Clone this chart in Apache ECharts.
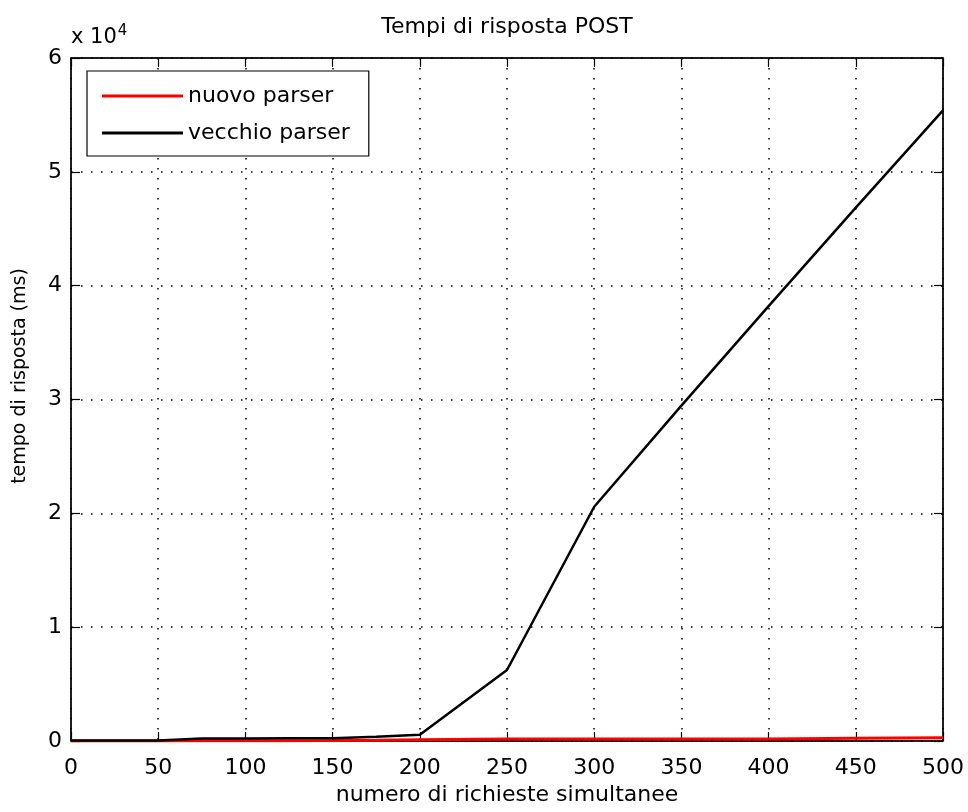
<!DOCTYPE html>
<html>
<head>
<meta charset="utf-8">
<script src="https://cdn.jsdelivr.net/npm/echarts@6/dist/echarts.min.js"></script>
<style>
html,body{margin:0;padding:0;background:#fff;}
#c{width:968px;height:812px;}
</style>
</head>
<body>
<div id="c"></div>
<script>
// ---- data ----
const titleText = 'Tempi di risposta POST';
const xName = 'numero di richieste simultanee';
const yName = 'tempo di risposta (ms)';
const seriesNames = ['nuovo parser', 'vecchio parser'];
const xTicks = [0, 50, 100, 150, 200, 250, 300, 350, 400, 450, 500];
const yTicks = [0, 1, 2, 3, 4, 5, 6]; // x 10^4

const xNuovo = [0, 25, 50, 75, 100, 125, 150, 175, 200, 250, 300, 350, 400, 450, 500];
const yNuovo = [0, 0, 0, 20, 30, 30, 40, 60, 100, 170, 170, 170, 180, 250, 280];

const xVecchio = [0, 25, 50, 75, 100, 125, 150, 175, 200, 250, 300, 350, 400, 450, 500];
const yVecchio = [50, 50, 50, 230, 230, 240, 250, 380, 550, 6240, 20580, 29460, 38200, 46850, 55400];

const FONT = 'DejaVu Sans';
const FS = 22;
const zip = (xs, ys) => xs.map((x, i) => [x, ys[i]]);

const chart = echarts.init(document.getElementById('c'), null, {renderer: 'canvas'});

const gridLeft = 71, gridTop = 58, gridRight = 968 - 943, gridBottom = 812 - 741;
const dotted = {color: '#000', width: 1.5, type: [1.5, 8.5]};

const baseX = {
  type: 'value', min: xTicks[0], max: xTicks[xTicks.length - 1], interval: xTicks[1] - xTicks[0]
};
const baseY = {
  type: 'value', min: yTicks[0] * 10000, max: yTicks[yTicks.length - 1] * 10000, interval: (yTicks[1] - yTicks[0]) * 10000
};

chart.setOption({
  animation: false,
  backgroundColor: '#fff',
  grid: {left: gridLeft, top: gridTop, right: gridRight, bottom: gridBottom, containLabel: false,
         show: true, borderColor: '#000', borderWidth: 1, backgroundColor: '#fff'},
  xAxis: [
    Object.assign({}, baseX, {
      position: 'bottom',
      axisLine: {show: true, onZero: false, lineStyle: {color: '#000', width: 1.5}},
      axisTick: {show: true, inside: true, length: 9, lineStyle: {color: '#000', width: 1.2}},
      axisLabel: {show: true, color: '#000', fontFamily: FONT, fontSize: FS, lineHeight: 22, margin: 16},
      splitLine: {show: true, lineStyle: dotted}
    }),
    Object.assign({}, baseX, {
      position: 'top',
      axisLine: {show: true, onZero: false, lineStyle: {color: '#000', width: 1.5}},
      axisTick: {show: true, inside: true, length: 9, lineStyle: {color: '#000', width: 1.2}},
      axisLabel: {show: false},
      splitLine: {show: false}
    })
  ],
  yAxis: [
    Object.assign({}, baseY, {
      position: 'left',
      axisLine: {show: true, onZero: false, lineStyle: {color: '#000', width: 1.5}},
      axisTick: {show: true, inside: true, length: 9, lineStyle: {color: '#000', width: 1.2}},
      axisLabel: {show: true, color: '#000', fontFamily: FONT, fontSize: FS, margin: 9,
                  formatter: v => String(v / 10000)},
      splitLine: {show: true, lineStyle: dotted}
    }),
    Object.assign({}, baseY, {
      position: 'right',
      axisLine: {show: true, onZero: false, lineStyle: {color: '#000', width: 1.5}},
      axisTick: {show: true, inside: true, length: 9, lineStyle: {color: '#000', width: 1.2}},
      axisLabel: {show: false},
      splitLine: {show: false}
    })
  ],
  legend: {
    show: true,
    orient: 'vertical',
    left: 87, top: 71,
    padding: [14, 19, 12, 15],
    itemGap: 15,
    itemWidth: 81, itemHeight: 3,
    icon: 'rect',
    backgroundColor: '#fff',
    borderColor: '#000', borderWidth: 1.2, borderRadius: 0,
    textStyle: {color: '#000', fontFamily: FONT, fontSize: FS, lineHeight: 22},
    data: seriesNames
  },
  series: [
    {
      name: seriesNames[0], type: 'line', xAxisIndex: 0, yAxisIndex: 0,
      data: zip(xNuovo, yNuovo), showSymbol: false, symbol: 'none',
      lineStyle: {color: '#ff0000', width: 3}, itemStyle: {color: '#ff0000'}, z: 3
    },
    {
      name: seriesNames[1], type: 'line', xAxisIndex: 0, yAxisIndex: 0,
      data: zip(xVecchio, yVecchio), showSymbol: false, symbol: 'none',
      lineStyle: {color: '#000000', width: 2.5}, itemStyle: {color: '#000000'}, z: 4
    }
  ],
  graphic: [
    {type: 'text', z: 10, x: 507, y: 27,
     style: {text: titleText, fill: '#000', font: FS + 'px "DejaVu Sans"', align: 'center', verticalAlign: 'middle'}},
    {type: 'text', z: 10, x: 71, y: 24,
     style: {text: 'x 10{s|4}', fill: '#000', font: '21px "DejaVu Sans"',
             rich: {s: {fontSize: 15, fontFamily: FONT, verticalAlign: 'top', padding: [0, 0, 12, 1]}}}},
    {type: 'text', z: 10, x: 507, y: 795,
     style: {text: xName, fill: '#000', font: FS + 'px "DejaVu Sans"', align: 'center', verticalAlign: 'middle'}},
    {type: 'text', z: 10, x: 20, y: 376, rotation: Math.PI / 2,
     style: {text: yName, fill: '#000', font: '19px "DejaVu Sans"', align: 'center', verticalAlign: 'middle'}}
  ]
});
</script>
</body>
</html>
